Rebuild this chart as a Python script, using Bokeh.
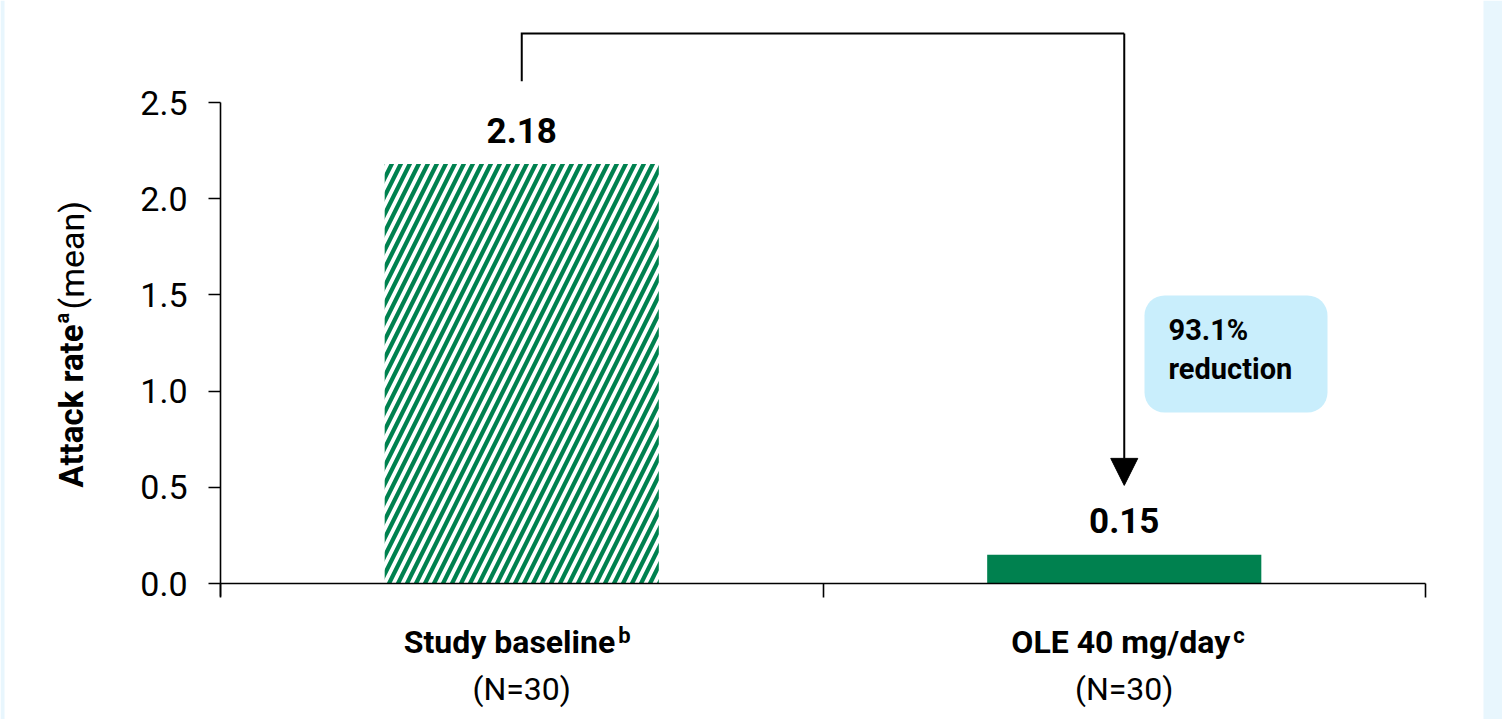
import numpy as np
from bokeh.plotting import figure
from bokeh.models import (Range1d, FixedTicker, Label, Arrow, NormalHead,
                          BoxAnnotation, ColumnDataSource)
from bokeh.core.properties import value
from bokeh.embed import file_html
from bokeh.resources import INLINE

# ---- data -------------------------------------------------------------
categories = ["Study baseline", "OLE 40 mg/day"]
category_notes = ["b", "c"]
group_sizes = ["(N=30)", "(N=30)"]
attack_rate = [2.18, 0.15]
reduction_lines = ["93.1%", "reduction"]
y_ticks = [0.0, 0.5, 1.0, 1.5, 2.0, 2.5]

# ---- style ------------------------------------------------------------
GREEN = "#00814f"
CALLOUT = "#c9eefc"
STRIP = "#e8f6fd"
FONT = value("Roboto")

W, H = 1502, 719
# pixel geometry of the plotting area (origin of the axes and unit sizes)
X0_PX, X_UNIT_PX = 220, 602.5
Y0_PX, Y_UNIT_PX = 583, 192.4


def px_x(px):
    return (px - X0_PX) / X_UNIT_PX


def px_y(py):
    return (Y0_PX - py) / Y_UNIT_PX


p = figure(width=W, height=H,
           x_range=Range1d(px_x(0), px_x(W)),
           y_range=Range1d(px_y(H), px_y(0)),
           output_backend="svg", toolbar_location=None,
           min_border=0, outline_line_color=None,
           background_fill_color="white", border_fill_color="white")
p.xgrid.visible = False
p.ygrid.visible = False

# ---- axes -------------------------------------------------------------
yax = p.yaxis[0]
yax.fixed_location = 0
yax.bounds = (-0.068, 2.5)
yax.ticker = FixedTicker(ticks=y_ticks)
yax.minor_tick_line_color = None
yax.major_tick_out = 12
yax.major_tick_in = 0
yax.axis_line_width = 1.6
yax.major_tick_line_width = 1.6
yax.axis_line_color = "black"
yax.major_tick_line_color = "black"
yax.major_label_overrides = {t: f"{t:.1f}" for t in y_ticks}
yax.major_label_text_font = "Roboto"
yax.major_label_text_font_size = "34px"
yax.major_label_text_color = "black"
yax.major_label_standoff = 21

xax = p.xaxis[0]
xax.fixed_location = 0
xax.bounds = (0, len(categories))
xax.ticker = FixedTicker(ticks=list(range(len(categories) + 1)))
xax.minor_tick_line_color = None
xax.major_tick_out = 14
xax.major_tick_in = 0
xax.axis_line_width = 1.6
xax.major_tick_line_width = 1.6
xax.axis_line_color = "black"
xax.major_tick_line_color = "black"
xax.major_label_overrides = {i: "" for i in range(len(categories) + 1)}

# ---- bars -------------------------------------------------------------
centers = np.arange(len(categories)) + 0.5
src = ColumnDataSource(dict(
    x=centers,
    top=attack_rate,
    label=[f"{v:.2f}" for v in attack_rate],
    hatch=["/", " "],
    fill_alpha=[0.0, 1.0],
))
p.vbar(x="x", top="top", width=0.455, source=src,
       fill_color=GREEN, fill_alpha="fill_alpha", line_color=None,
       hatch_pattern="hatch", hatch_color=GREEN, hatch_scale=18,
       hatch_weight=4.2)

p.text(x="x", y="top", text="label", source=src,
       text_align="center", text_baseline="alphabetic", y_offset=-34,
       text_font=FONT, text_font_style="bold", text_font_size="35px",
       text_color="black")

# ---- category labels --------------------------------------------------
split_offsets = [93.5, 106.0]   # px from group centre to end of bold label
cat_src = ColumnDataSource(dict(
    x=centers, y=[0.0] * len(categories),
    name=categories, note=category_notes, n=group_sizes,
    off=split_offsets, note_off=[o + 3 for o in split_offsets],
))
p.text(x="x", y="y", text="name", source=cat_src, x_offset="off",
       y_offset=58.5, text_align="right", text_baseline="alphabetic",
       text_font=FONT, text_font_style="bold", text_font_size="32px",
       text_color="black")
p.text(x="x", y="y", text="note", source=cat_src, x_offset="note_off",
       y_offset=52, text_align="left", text_baseline="alphabetic",
       text_font=FONT, text_font_style="bold", text_font_size="22px",
       text_color="black")
p.text(x="x", y="y", text="n", source=cat_src, y_offset=105.5,
       text_align="center", text_baseline="alphabetic",
       text_font=FONT, text_font_size="32px", text_color="black")

# ---- y axis title -----------------------------------------------------
title_kw = dict(angle=np.pi / 2, text_align="left", text_baseline="alphabetic",
                text_font="Roboto", text_color="black")
p.add_layout(Label(x=px_x(71), y=px_y(487), text="Attack rate",
                   text_font_style="bold", text_font_size="33px", **title_kw))
p.add_layout(Label(x=px_x(61), y=px_y(323), text="a",
                   text_font_style="bold", text_font_size="20px", **title_kw))
p.add_layout(Label(x=px_x(71), y=px_y(309), text="(mean)",
                   text_font_size="34px", **title_kw))

# ---- reduction bracket ------------------------------------------------
top_y = px_y(33)
start_y = attack_rate[0] + 0.43
tip_y = attack_rate[1] + 0.36
p.line(x=[centers[0], centers[0], centers[1]], y=[start_y, top_y, top_y],
       line_color="black", line_width=2, line_join="miter")
p.add_layout(Arrow(x_start=centers[1], y_start=top_y,
                   x_end=centers[1], y_end=tip_y,
                   line_color="black", line_width=2,
                   end=NormalHead(size=27, fill_color="black",
                                  line_color="black", line_width=1)))

# ---- callout ----------------------------------------------------------
p.add_layout(BoxAnnotation(left=px_x(1144), right=px_x(1327),
                           top=px_y(295), bottom=px_y(412),
                           fill_color=CALLOUT, fill_alpha=1.0,
                           line_color=None, border_radius=20))
for line_text, base_py in zip(reduction_lines, [329.5, 368.5]):
    p.add_layout(Label(x=px_x(1168), y=px_y(base_py), text=line_text,
                       text_align="left", text_baseline="alphabetic",
                       text_font="Roboto", text_font_style="bold",
                       text_font_size="29px", text_color="black"))

# ---- side strips ------------------------------------------------------
p.add_layout(BoxAnnotation(left=px_x(0), right=px_x(4), top=px_y(0),
                           bottom=px_y(H), fill_color=STRIP, fill_alpha=1.0,
                           line_color=None))
p.add_layout(BoxAnnotation(left=px_x(1483), right=px_x(W), top=px_y(0),
                           bottom=px_y(H), fill_color=STRIP, fill_alpha=1.0,
                           line_color=None))

open("out.html", "w").write(file_html(p, INLINE))
